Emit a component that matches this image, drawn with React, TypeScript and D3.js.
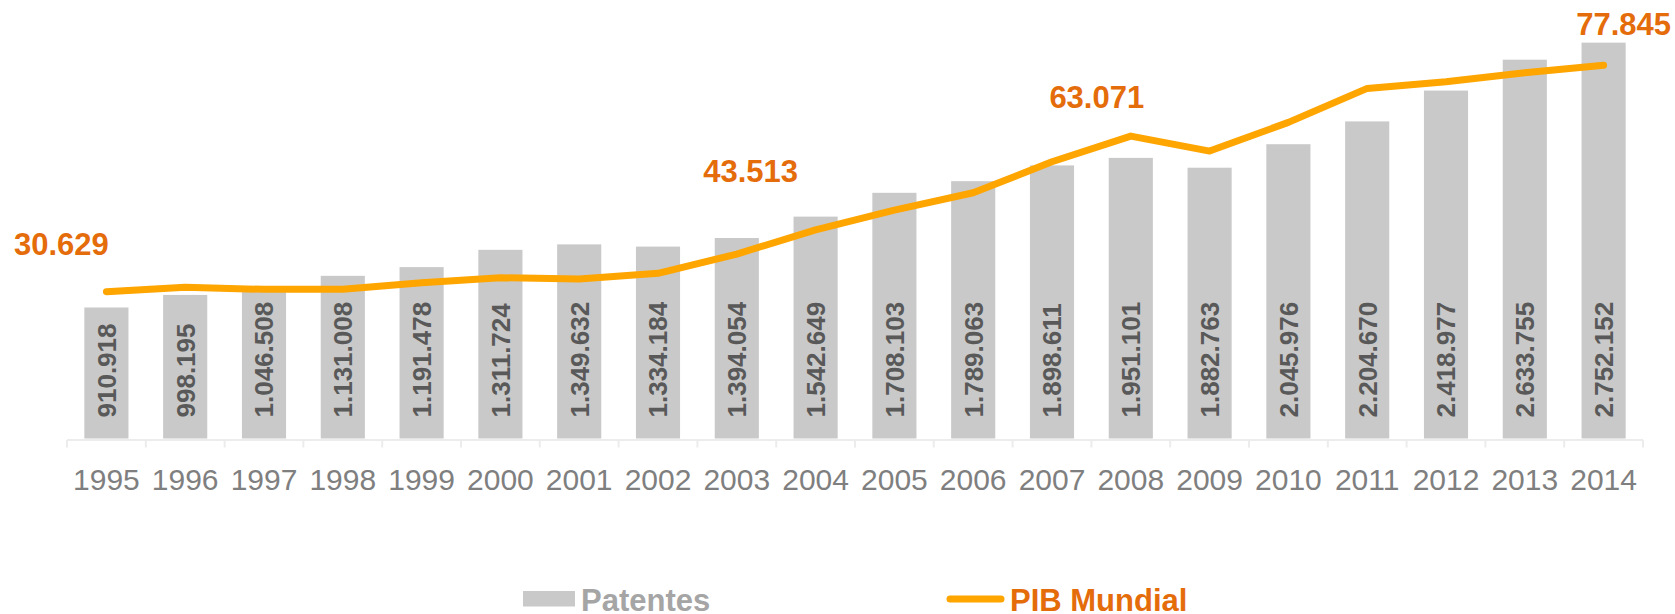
import React, { useEffect, useRef } from "react";
import * as d3 from "d3";

const years = [
  "1995", "1996", "1997", "1998", "1999", "2000", "2001", "2002", "2003", "2004",
  "2005", "2006", "2007", "2008", "2009", "2010", "2011", "2012", "2013", "2014",
];

const patentes = [
  910918, 998195, 1046508, 1131008, 1191478, 1311724, 1349632, 1334184, 1394054, 1542649,
  1708103, 1789063, 1898611, 1951101, 1882763, 2045976, 2204670, 2418977, 2633755, 2752152,
];

// PIB Mundial (bilhões US$)
const pib = [
  30629, 31530, 31110, 31110, 32490, 33530, 33260, 34450, 38470, 43513,
  47640, 51250, 57720, 63071, 59950, 65930, 73020, 74400, 76270, 77845,
];

// which points carry a label, and where it sits relative to the point
const pibLabels = [
  { year: "1995", dx: -45, dy: -37 },
  { year: "2004", dx: -65, dy: -48 },
  { year: "2008", dx: -34, dy: -28 },
  { year: "2014", dx: 20, dy: -30 },
];

const legendItems = ["Patentes", "PIB Mundial"];

const fmt = (v: number) => d3.format(",")(v).replace(/,/g, ".");

export default function App() {
  const ref = useRef<SVGSVGElement>(null);

  useEffect(() => {
    const W = 1675,
      H = 614;
    const margin = { top: 7, left: 67, right: 32, bottom: 175.5 };
    const width = W - margin.left - margin.right;
    const height = H - margin.top - margin.bottom;

    const svg = d3.select(ref.current);
    svg.selectAll("*").remove();

    const font = "'Liberation Sans', Arial, sans-serif";
    const g = svg
      .append("g")
      .attr("transform", "translate(" + margin.left + "," + margin.top + ")");

    const x = d3
      .scaleBand()
      .domain(years)
      .range([0, width])
      .paddingInner(0.44)
      .paddingOuter(0.22);

    const y = d3.scaleLinear().domain([0, 3000000]).range([height, 0]);
    const y2 = d3.scaleLinear().domain([0, 90000]).range([height, 0]);

    // bars
    g.selectAll(".bar")
      .data(years)
      .enter()
      .append("rect")
      .attr("class", "bar")
      .attr("x", (d) => x(d)!)
      .attr("width", x.bandwidth())
      .attr("y", (d, i) => y(patentes[i]))
      .attr("height", (d, i) => height - y(patentes[i]))
      .attr("fill", "#c9c9c9");

    // axis line + ticks at the band edges
    g.append("line")
      .attr("x1", 0)
      .attr("x2", width)
      .attr("y1", height + 1.5)
      .attr("y2", height + 1.5)
      .attr("stroke", "#ececec")
      .attr("stroke-width", 2);

    g.selectAll(".tick")
      .data(d3.range(years.length + 1))
      .enter()
      .append("line")
      .attr("x1", (i) => i * x.step())
      .attr("x2", (i) => i * x.step())
      .attr("y1", height + 1.5)
      .attr("y2", height + 9)
      .attr("stroke", "#ececec")
      .attr("stroke-width", 2);

    g.selectAll(".year")
      .data(years)
      .enter()
      .append("text")
      .attr("x", (d) => x(d)! + x.bandwidth() / 2)
      .attr("y", height + 51)
      .attr("text-anchor", "middle")
      .attr("font-family", font)
      .attr("font-size", 30)
      .attr("fill", "#7f7f7f")
      .text((d) => d);

    // bar value labels, rotated, starting near the base
    g.selectAll(".barlabel")
      .data(years)
      .enter()
      .append("text")
      .attr(
        "transform",
        (d) => "translate(" + (x(d)! + x.bandwidth() / 2) + "," + (height - 21) + ") rotate(-90)"
      )
      .attr("dy", "0.36em")
      .attr("font-family", font)
      .attr("font-weight", "bold")
      .attr("font-size", 26)
      .attr("fill", "#595959")
      .text((d, i) => fmt(patentes[i]));

    // PIB line
    const line = d3
      .line<number>()
      .x((d, i) => x(years[i])! + x.bandwidth() / 2)
      .y((d) => y2(d));

    g.append("path")
      .datum(pib)
      .attr("d", line)
      .attr("fill", "none")
      .attr("stroke", "#ffa500")
      .attr("stroke-width", 7)
      .attr("stroke-linecap", "round")
      .attr("stroke-linejoin", "round");

    g.selectAll(".piblabel")
      .data(pibLabels)
      .enter()
      .append("text")
      .attr("x", (d) => x(d.year)! + x.bandwidth() / 2 + d.dx)
      .attr("y", (d) => y2(pib[years.indexOf(d.year)]) + d.dy)
      .attr("text-anchor", "middle")
      .attr("font-family", font)
      .attr("font-weight", "bold")
      .attr("font-size", 31)
      .attr("fill", "#e46c0a")
      .text((d) => fmt(pib[years.indexOf(d.year)]));

    // legend
    const legend = svg.append("g").attr("transform", "translate(523,611)");

    legend
      .append("rect")
      .attr("x", 0)
      .attr("y", -20)
      .attr("width", 52)
      .attr("height", 15.5)
      .attr("fill", "#c9c9c9");

    legend
      .append("text")
      .attr("x", 58)
      .attr("y", 0)
      .attr("font-family", font)
      .attr("font-weight", "bold")
      .attr("font-size", 31)
      .attr("fill", "#a5a5a5")
      .text(legendItems[0]);

    legend
      .append("line")
      .attr("x1", 427)
      .attr("x2", 478)
      .attr("y1", -12)
      .attr("y2", -12)
      .attr("stroke", "#ffa500")
      .attr("stroke-width", 7)
      .attr("stroke-linecap", "round");

    legend
      .append("text")
      .attr("x", 487)
      .attr("y", 0)
      .attr("font-family", font)
      .attr("font-weight", "bold")
      .attr("font-size", 31)
      .attr("fill", "#e46c0a")
      .text(legendItems[1]);
  }, []);

  return (
    <div style={{ position: "fixed", left: 0, top: 0 }}>
      <svg ref={ref} width={1675} height={614} style={{ display: "block", background: "#fff" }} />
    </div>
  );
}
